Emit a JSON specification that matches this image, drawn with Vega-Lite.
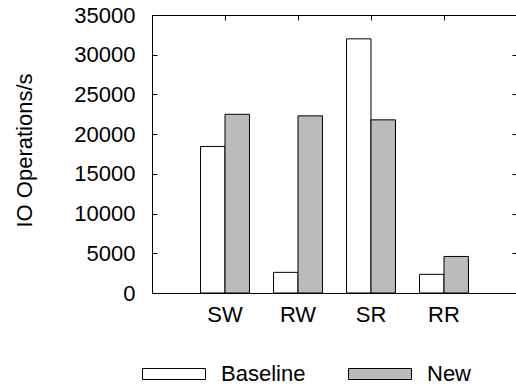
{
  "$schema": "https://vega.github.io/schema/vega-lite/v6.json",
  "width": 365,
  "height": 278,
  "autosize": {"type": "none"},
  "padding": {"left": 152, "top": 15, "right": 0, "bottom": 93},
  "background": "white",
  "config": {
    "font": "Liberation Sans",
    "view": {"stroke": "black", "strokeWidth": 1},
    "axis": {"grid": false, "domain": false, "tickColor": "black", "labelColor": "black", "titleColor": "black", "labelFontSize": 22, "titleFontSize": 22, "titleFontWeight": "normal", "labelFont": "Liberation Sans", "titleFont": "Liberation Sans"}
  },
  "data": {
    "values": [
      {"cat": "SW", "series": "Baseline", "iops": 18450},
      {"cat": "SW", "series": "New", "iops": 22500},
      {"cat": "RW", "series": "Baseline", "iops": 2600},
      {"cat": "RW", "series": "New", "iops": 22300},
      {"cat": "SR", "series": "Baseline", "iops": 32000},
      {"cat": "SR", "series": "New", "iops": 21800},
      {"cat": "RR", "series": "Baseline", "iops": 2350},
      {"cat": "RR", "series": "New", "iops": 4600}
    ]
  },
  "layer": [
    {
      "mark": {"type": "bar", "stroke": "black", "strokeWidth": 1},
      "encoding": {
        "x": {"field": "cat", "type": "nominal", "sort": ["SW", "RW", "SR", "RR"],
          "scale": {"paddingInner": 0.33, "paddingOuter": 0.665},
          "axis": {"orient": "bottom", "title": null, "labelAngle": 0, "offset": -5, "tickSize": 5, "labelPadding": 11}},
        "xOffset": {"field": "series", "type": "nominal", "sort": ["Baseline", "New"], "scale": {"paddingInner": 0, "paddingOuter": 0}},
        "y": {"field": "iops", "type": "quantitative",
          "scale": {"domain": [0, 35000], "nice": false},
          "axis": {"orient": "left", "tickCount": 7, "format": "d", "offset": -5, "tickSize": 5, "labelPadding": 17,
            "title": "IO Operations/s", "titleX": -133, "titleY": 135, "titleAngle": -90, "titleAlign": "center", "titleBaseline": "middle"}},
        "fill": {"field": "series", "type": "nominal", "sort": ["Baseline", "New"],
          "scale": {"domain": ["Baseline", "New"], "range": ["white", "#bbbbbb"]},
          "legend": {"title": null, "orient": "none", "legendX": -10, "legendY": 327, "direction": "horizontal",
            "symbolType": "M-1,-0.175H1V0.175H-1Z", "symbolSize": 3969, "symbolStrokeColor": "black", "symbolStrokeWidth": 1, "symbolOpacity": 1,
            "labelFontSize": 22, "labelFont": "Liberation Sans", "labelColor": "black", "labelOffset": 15, "columnPadding": 40, "padding": 0, "offset": 0}}
      }
    },
    {
      "mark": {"type": "bar", "opacity": 0},
      "encoding": {
        "x": {"field": "cat", "type": "nominal", "sort": ["SW", "RW", "SR", "RR"],
          "scale": {"paddingInner": 0.33, "paddingOuter": 0.665},
          "axis": {"orient": "top", "title": null, "labels": false, "offset": -5, "tickSize": 5}},
        "y": {"field": "iops", "type": "quantitative",
          "scale": {"domain": [0, 35000], "nice": false},
          "axis": {"orient": "right", "tickCount": 7, "labels": false, "offset": -5, "tickSize": 5, "title": null}}
      }
    }
  ],
  "resolve": {"axis": {"x": "independent", "y": "independent"}}
}
